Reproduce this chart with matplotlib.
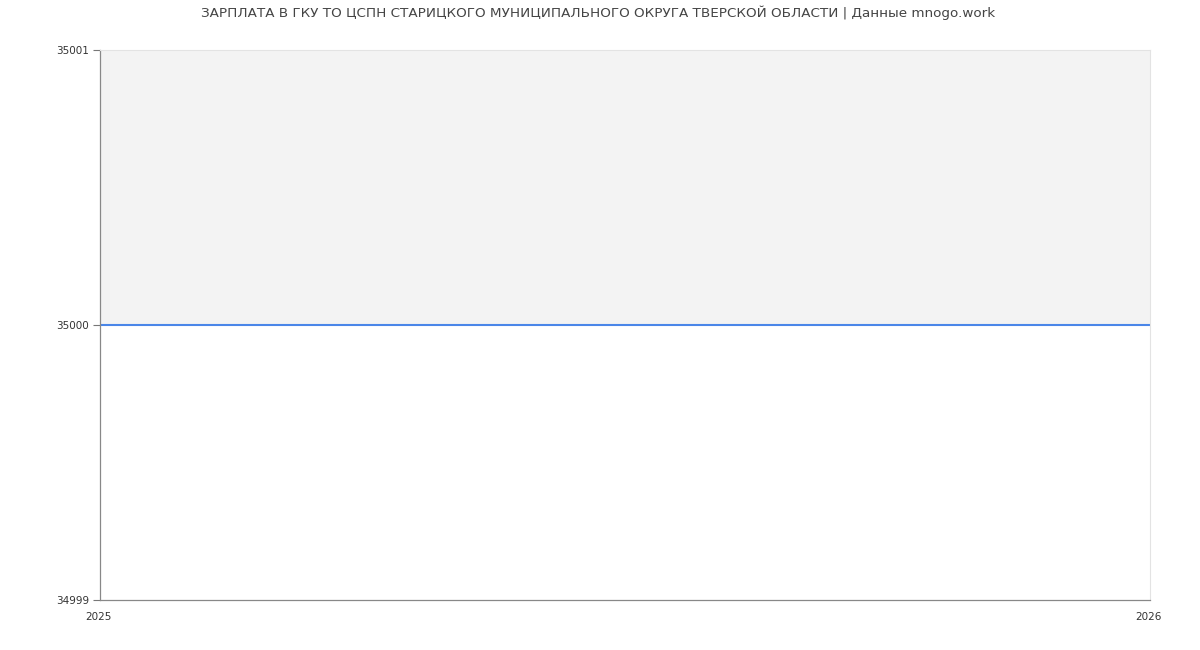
import matplotlib
matplotlib.use('Agg')
import matplotlib.pyplot as plt
import matplotlib.transforms as mtransforms

# data
years = [2025, 2026]
salary = [35000, 35000]
y_ticks = [34999, 35000, 35001]
title = 'ЗАРПЛАТА В ГКУ ТО ЦСПН СТАРИЦКОГО МУНИЦИПАЛЬНОГО ОКРУГА ТВЕРСКОЙ ОБЛАСТИ | Данные mnogo.work'

plt.rcParams['font.family'] = ['DejaVu Sans']

fig = plt.figure(figsize=(12, 6.5), dpi=100)
ax = fig.add_axes([100/1200, 50/650, 1050/1200, 550/650])

ax.set_xlim(years[0], years[-1])
ax.set_ylim(y_ticks[0], y_ticks[-1])

# grey fill above the line, blue line itself
ax.fill_between(years, salary, y_ticks[-1], color='#f3f3f3', lw=0)
ax.plot(years, salary, color='#4a86e8', lw=1.5)

ax.set_yticks(y_ticks)
ax.set_yticklabels([str(v) for v in y_ticks])
ax.set_xticks(years)
ax.set_xticklabels([str(v) for v in years])
ax.tick_params(axis='y', length=5, width=0.8, color='#777777', labelsize=7.5,
               labelcolor='#333333', pad=3)
ax.tick_params(axis='x', length=0, labelsize=7.5, labelcolor='#333333', pad=9)

# x labels sit a couple of pixels left of the tick positions in the reference
shift = mtransforms.ScaledTranslation(-2/100, 0, fig.dpi_scale_trans)
for lab in ax.get_xticklabels():
    lab.set_transform(lab.get_transform() + shift)

for s in ['left', 'bottom']:
    ax.spines[s].set_color('#888888')
    ax.spines[s].set_linewidth(0.9)
for s in ['top', 'right']:
    ax.spines[s].set_color('#e3e3e3')
    ax.spines[s].set_linewidth(0.8)

fig.text(598/1200, 1 - 13/650, title, ha='center', va='center',
         fontsize=9.7, color='#444444')

fig.savefig('out.png', dpi=100)
